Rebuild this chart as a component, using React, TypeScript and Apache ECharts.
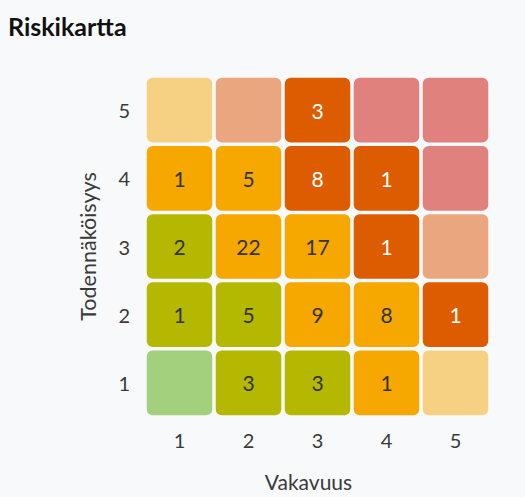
import React, { useEffect, useRef } from "react";
import * as echarts from "echarts";

const severityLabels = ["1", "2", "3", "4", "5"];
const probabilityLabels = ["1", "2", "3", "4", "5"];

// counts[row][col], row 0 = probability 1
const counts: (number | null)[][] = [
  [null, 3, 3, 1, null],
  [1, 5, 9, 8, 1],
  [2, 22, 17, 1, null],
  [1, 5, 8, 1, null],
  [null, null, 3, null, null],
];

// risk colour keys per cell, row 0 = probability 1
const riskLevels: string[][] = [
  ["lowPale", "low", "low", "mid", "midPale"],
  ["low", "low", "mid", "mid", "high"],
  ["low", "mid", "mid", "high", "highPale"],
  ["mid", "mid", "high", "high", "severePale"],
  ["midPale", "highPale", "high", "severePale", "severePale"],
];

const levelColors: Record<string, string> = {
  lowPale: "#a2d07d",
  low: "#b4b800",
  mid: "#f6a800",
  midPale: "#f6d184",
  high: "#dd5c00",
  highPale: "#eaa77f",
  severePale: "#e0817d",
};

export default function App() {
  const ref = useRef<HTMLDivElement>(null);
  useEffect(() => {
    document.body.style.margin = "0";
    const chart = echarts.init(ref.current!, null, { renderer: "svg" });
    const data: any[] = [];
    for (let r = 0; r < 5; r++) {
      for (let c = 0; c < 5; c++) {
        data.push([c, r, counts[r][c] ?? "-", riskLevels[r][c]]);
      }
    }
    const font = "Lato, 'Noto Sans', sans-serif";
    chart.setOption({
      animation: false,
      backgroundColor: "#f8f9fb",
      title: {
        text: "Riskikartta",
        left: 3,
        top: 8,
        textStyle: { fontFamily: font, fontWeight: "bold", fontSize: 25, color: "#111" },
      },
      grid: { left: 145, top: 76, width: 345, height: 345 },
      xAxis: {
        type: "category",
        data: severityLabels,
        name: "Vakavuus",
        nameLocation: "middle",
        nameGap: 54,
        nameTextStyle: { fontFamily: font, fontSize: 21, color: "#3a3a3a", padding: [0, 18, 0, 0] },
        axisLine: { show: false },
        axisTick: { show: false },
        splitLine: { show: false },
        axisLabel: { fontFamily: font, fontSize: 20, color: "#3a3a3a", margin: 13 },
      },
      yAxis: {
        type: "category",
        data: probabilityLabels,
        name: "Todennäköisyys",
        nameLocation: "middle",
        nameGap: 46,
        nameRotate: 90,
        nameTextStyle: { fontFamily: font, fontSize: 21.5, color: "#3a3a3a" },
        axisLine: { show: false },
        axisTick: { show: false },
        splitLine: { show: false },
        axisLabel: { fontFamily: font, fontSize: 20, color: "#3a3a3a", margin: 15 },
      },
      series: [
        {
          type: "custom",
          data,
          renderItem: (params: any, api: any) => {
            const x = api.value(0);
            const y = api.value(1);
            const center = api.coord([x, y]);
            const size = api.size([1, 1]);
            const level = riskLevels[y][x];
            const count = counts[y][x];
            const gap = 3.5;
            const w = size[0] - gap;
            const h = size[1] - gap;
            const fill = levelColors[level];
            const children: any[] = [
              {
                type: "rect",
                shape: { x: center[0] - w / 2, y: center[1] - h / 2, width: w, height: h, r: 6 },
                style: { fill },
              },
            ];
            if (count !== null) {
              children.push({
                type: "text",
                style: {
                  text: String(count),
                  x: center[0],
                  y: center[1],
                  align: "center",
                  verticalAlign: "middle",
                  fontFamily: font,
                  fontSize: 21,
                  fill: level === "high" ? "#ffffff" : "#333333",
                },
              });
            }
            return { type: "group", children };
          },
        },
      ],
    });
    return () => chart.dispose();
  }, []);
  return <div ref={ref} style={{ width: 525, height: 497 }} />;
}
